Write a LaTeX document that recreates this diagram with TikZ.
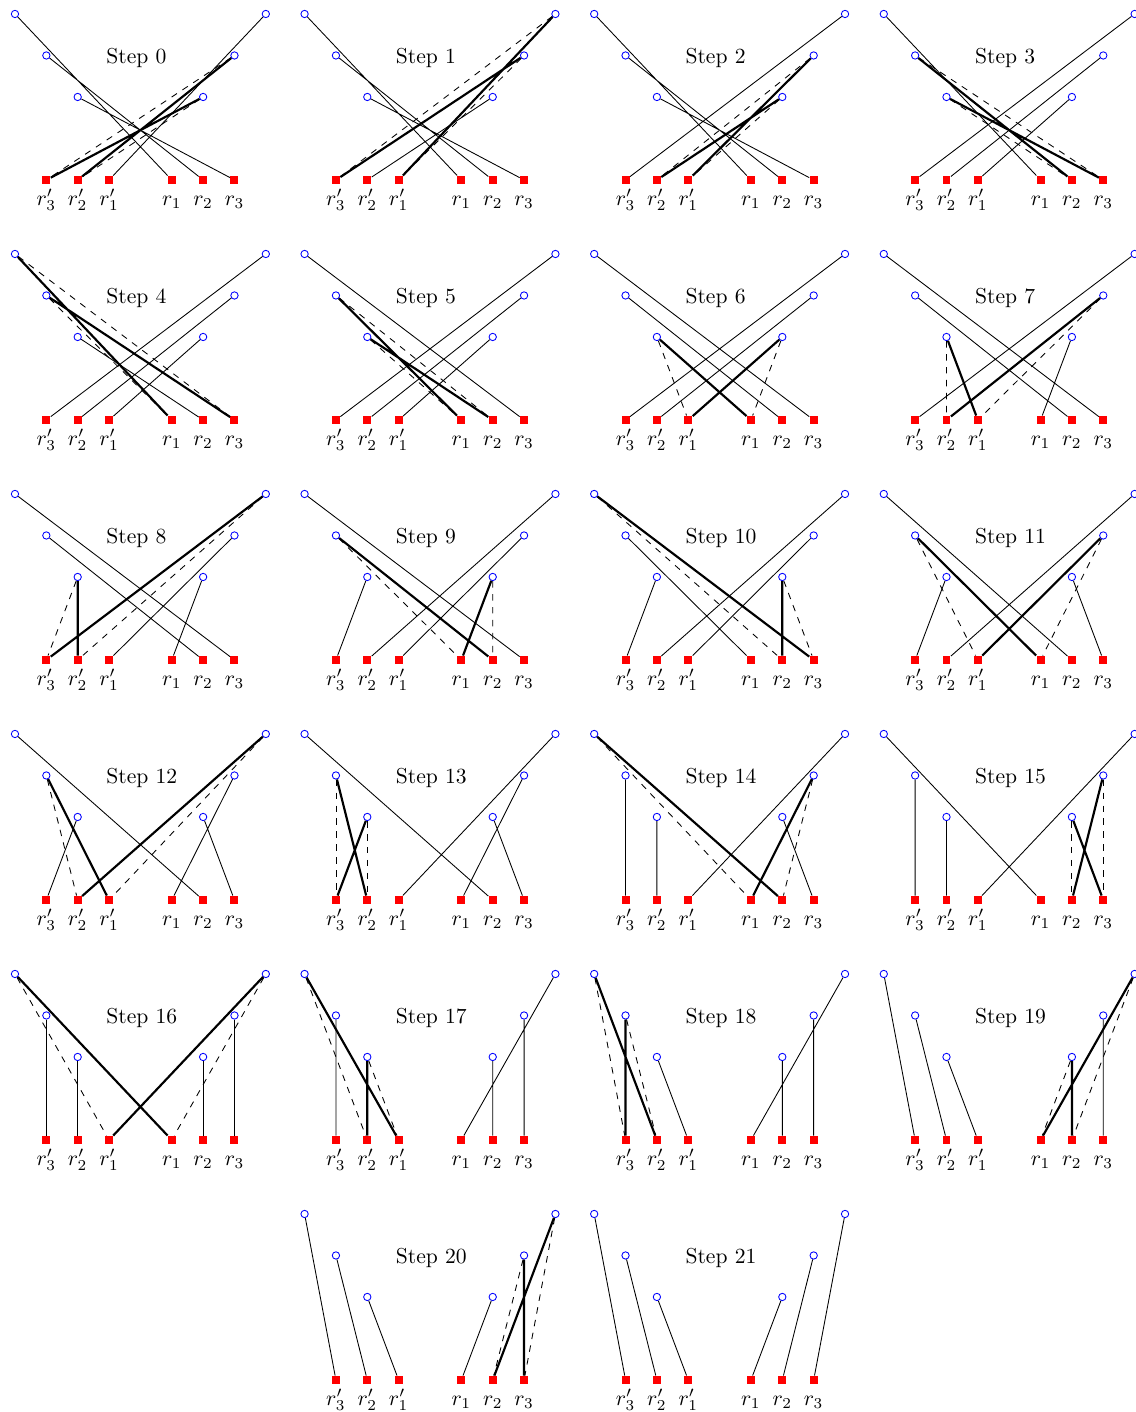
\documentclass[tikz,border=0pt]{standalone}
\usepackage{amsmath,amssymb}
\usetikzlibrary{positioning}

\tikzset{
  srv/.style={circle, draw=blue, fill=white, inner sep=0pt, minimum size=3.4pt},
  req/.style={rectangle, fill=red, inner sep=0pt, minimum size=3.7pt},
  swapold/.style={line width=1pt},
  swapnew/.style={dashed},
  every label/.style={text height=6pt, text depth=2pt},
}

% one step: column, row, step number, edges
\newcommand{\stepframe}[4]{%
  \begin{scope}[shift={(#1*9.236,-#2*5.783)}, name prefix=s#3-]
    % servers
    \node[srv] (c3p) at (0,4) {};
    \node[srv] (c2p) at (1,3) {};
    \node[srv] (c1p) at (2,2) {};
    \node[srv] (c1) at (6,2) {};
    \node[srv] (c2) at (7,3) {};
    \node[srv] (c3) at (8,4) {};
    % requests
    \node[req, label=below:{$r'_3$}] (r3p) at (1,0) {};
    \node[req, label=below:{$r'_2$}] (r2p) at (2,0) {};
    \node[req, label=below:{$r'_1$}] (r1p) at (3,0) {};
    \node[req, label=below:{$r_1$}] (r1) at (5,0) {};
    \node[req, label=below:{$r_2$}] (r2) at (6,0) {};
    \node[req, label=below:{$r_3$}] (r3) at (7,0) {};
    \node[right] (title) at (2.67,2.93) {Step #3};
    #4
  \end{scope}}

\begin{document}
\begin{tikzpicture}[x=0.51cm, y=0.675cm]
    \useasboundingbox (-0.478,-29.687) rectangle (35.73,4.337);

    % Zeile 1
    \stepframe{0}{0}{0}{
      \draw (c3p) -- (r1) (c2p) -- (r2) (c1p) -- (r3) (c3) -- (r1p);
      \draw[swapold] (c1) -- (r3p) (c2) -- (r2p);
      \draw[swapnew] (c2) -- (r3p) (c1) -- (r2p);}
    \stepframe{1}{0}{1}{
      \draw (c3p) -- (r1) (c2p) -- (r2) (c1p) -- (r3) (c1) -- (r2p);
      \draw[swapold] (c3) -- (r1p) (c2) -- (r3p);
      \draw[swapnew] (c3) -- (r3p) (c2) -- (r1p);}
    \stepframe{2}{0}{2}{
      \draw (c3p) -- (r1) (c2p) -- (r2) (c1p) -- (r3) (c3) -- (r3p);
      \draw[swapold] (c2) -- (r1p) (c1) -- (r2p);
      \draw[swapnew] (c2) -- (r2p) (c1) -- (r1p);}
    \stepframe{3}{0}{3}{
      \draw (c3p) -- (r1) (c3) -- (r3p) (c2) -- (r2p) (c1) -- (r1p);
      \draw[swapold] (c2p) -- (r2) (c1p) -- (r3);
      \draw[swapnew] (c2p) -- (r3) (c1p) -- (r2);}

    % Zeile 2
    \stepframe{0}{1}{4}{
      \draw (c1p) -- (r2) (c3) -- (r3p) (c2) -- (r2p) (c1) -- (r1p);
      \draw[swapold] (c3p) -- (r1) (c2p) -- (r3);
      \draw[swapnew] (c3p) -- (r3) (c2p) -- (r1);}
    \stepframe{1}{1}{5}{
      \draw (c3p) -- (r3) (c3) -- (r3p) (c2) -- (r2p) (c1) -- (r1p);
      \draw[swapold] (c2p) -- (r1) (c1p) -- (r2);
      \draw[swapnew] (c2p) -- (r2) (c1p) -- (r1);}
    \stepframe{2}{1}{6}{
      \draw (c3p) -- (r3) (c2p) -- (r2) (c3) -- (r3p) (c2) -- (r2p);
      \draw[swapold] (c1p) -- (r1) (c1) -- (r1p);
      \draw[swapnew] (c1p) -- (r1p) (c1) -- (r1);}
    \stepframe{3}{1}{7}{
      \draw (c3p) -- (r3) (c2p) -- (r2) (c3) -- (r3p) (c1) -- (r1);
      \draw[swapold] (c1p) -- (r1p) (c2) -- (r2p);
      \draw[swapnew] (c1p) -- (r2p) (c2) -- (r1p);}

    % Zeile 3
    \stepframe{0}{2}{8}{
      \draw (c3p) -- (r3) (c2p) -- (r2) (c2) -- (r1p) (c1) -- (r1);
      \draw[swapold] (c1p) -- (r2p) (c3) -- (r3p);
      \draw[swapnew] (c1p) -- (r3p) (c3) -- (r2p);}
    \stepframe{1}{2}{9}{
      \draw (c3p) -- (r3) (c1p) -- (r3p) (c3) -- (r2p) (c2) -- (r1p);
      \draw[swapold] (c2p) -- (r2) (c1) -- (r1);
      \draw[swapnew] (c2p) -- (r1) (c1) -- (r2);}
    \stepframe{2}{2}{10}{
      \draw (c2p) -- (r1) (c1p) -- (r3p) (c3) -- (r2p) (c2) -- (r1p);
      \draw[swapold] (c3p) -- (r3) (c1) -- (r2);
      \draw[swapnew] (c3p) -- (r2) (c1) -- (r3);}
    \stepframe{3}{2}{11}{
      \draw (c3p) -- (r2) (c1p) -- (r3p) (c3) -- (r2p) (c1) -- (r3);
      \draw[swapold] (c2p) -- (r1) (c2) -- (r1p);
      \draw[swapnew] (c2p) -- (r1p) (c2) -- (r1);}

    % Zeile 4
    \stepframe{0}{3}{12}{
      \draw (c3p) -- (r2) (c1p) -- (r3p) (c2) -- (r1) (c1) -- (r3);
      \draw[swapold] (c2p) -- (r1p) (c3) -- (r2p);
      \draw[swapnew] (c2p) -- (r2p) (c3) -- (r1p);}
    \stepframe{1}{3}{13}{
      \draw (c3p) -- (r2) (c3) -- (r1p) (c2) -- (r1) (c1) -- (r3);
      \draw[swapold] (c2p) -- (r2p) (c1p) -- (r3p);
      \draw[swapnew] (c2p) -- (r3p) (c1p) -- (r2p);}
    \stepframe{2}{3}{14}{
      \draw (c2p) -- (r3p) (c1p) -- (r2p) (c3) -- (r1p) (c1) -- (r3);
      \draw[swapold] (c3p) -- (r2) (c2) -- (r1);
      \draw[swapnew] (c3p) -- (r1) (c2) -- (r2);}
    \stepframe{3}{3}{15}{
      \draw (c3p) -- (r1) (c2p) -- (r3p) (c1p) -- (r2p) (c3) -- (r1p);
      \draw[swapold] (c2) -- (r2) (c1) -- (r3);
      \draw[swapnew] (c2) -- (r3) (c1) -- (r2);}

    % Zeile 5
    \stepframe{0}{4}{16}{
      \draw (c2p) -- (r3p) (c1p) -- (r2p) (c2) -- (r3) (c1) -- (r2);
      \draw[swapold] (c3p) -- (r1) (c3) -- (r1p);
      \draw[swapnew] (c3p) -- (r1p) (c3) -- (r1);}
    \stepframe{1}{4}{17}{
      \draw (c2p) -- (r3p) (c3) -- (r1) (c2) -- (r3) (c1) -- (r2);
      \draw[swapold] (c3p) -- (r1p) (c1p) -- (r2p);
      \draw[swapnew] (c3p) -- (r2p) (c1p) -- (r1p);}
    \stepframe{2}{4}{18}{
      \draw (c1p) -- (r1p) (c3) -- (r1) (c2) -- (r3) (c1) -- (r2);
      \draw[swapold] (c3p) -- (r2p) (c2p) -- (r3p);
      \draw[swapnew] (c3p) -- (r3p) (c2p) -- (r2p);}
    \stepframe{3}{4}{19}{
      \draw (c3p) -- (r3p) (c2p) -- (r2p) (c1p) -- (r1p) (c2) -- (r3);
      \draw[swapold] (c3) -- (r1) (c1) -- (r2);
      \draw[swapnew] (c3) -- (r2) (c1) -- (r1);}

    % Zeile 6
    \stepframe{1}{5}{20}{
      \draw (c3p) -- (r3p) (c2p) -- (r2p) (c1p) -- (r1p) (c1) -- (r1);
      \draw[swapold] (c3) -- (r2) (c2) -- (r3);
      \draw[swapnew] (c3) -- (r3) (c2) -- (r2);}
    \stepframe{2}{5}{21}{
      \draw (c3p) -- (r3p) (c2p) -- (r2p) (c1p) -- (r1p)
            (c1) -- (r1) (c2) -- (r2) (c3) -- (r3);}
\end{tikzpicture}
\end{document}
